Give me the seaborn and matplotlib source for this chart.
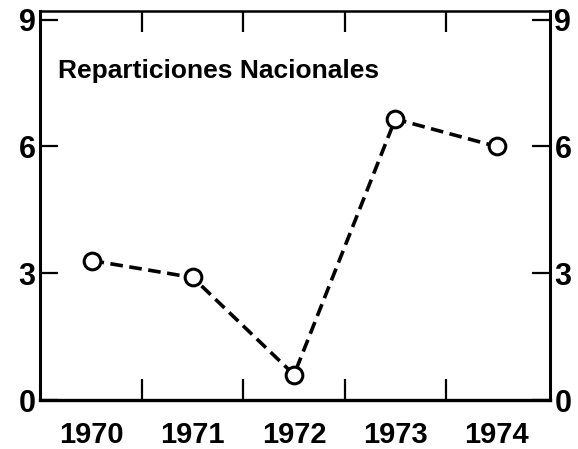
import matplotlib
matplotlib.use("Agg")
import matplotlib.pyplot as plt
import seaborn as sns
import pandas as pd
from matplotlib.ticker import FixedLocator, NullFormatter

# --- data ---
years = ["1970", "1971", "1972", "1973", "1974"]
values = [3.3, 2.9, 0.6, 6.65, 6.0]
y_ticks = [0, 3, 6, 9]
title = "Reparticiones Nacionales"

df = pd.DataFrame({"year": years, "value": values})

sns.set_style("white")
plt.rcParams["font.family"] = ["Liberation Sans", "DejaVu Sans"]
plt.rcParams["text.color"] = "black"
plt.rcParams["xtick.color"] = "black"
plt.rcParams["ytick.color"] = "black"
plt.rcParams["xtick.labelcolor"] = "black"
plt.rcParams["ytick.labelcolor"] = "black"

fig = plt.figure(figsize=(5.78, 4.49), dpi=100)
ax = fig.add_axes([0.069, 0.109, 0.883, 0.866])

sns.lineplot(data=df, x="year", y="value", ax=ax, color="black",
             linewidth=2.6, linestyle="--", dashes=False, marker="o",
             markersize=12, markerfacecolor="white", markeredgecolor="black",
             markeredgewidth=2.2, sort=False)
ax.lines[0].set_dashes((3.5, 1.8))

ax.set_xlim(-0.51, 4.53)
ax.set_ylim(0, 9.2)

# category labels at centres, tick marks at the boundaries
n = len(years)
ax.xaxis.set_major_locator(FixedLocator([i + 0.5 for i in range(n - 1)]))
ax.xaxis.set_major_formatter(NullFormatter())
ax.xaxis.set_minor_locator(FixedLocator(list(range(n))))
ax.set_xticklabels(years, minor=True)
ax.tick_params(axis="x", which="major", direction="in", length=15, width=1.6,
               top=True, bottom=True, color="black")
ax.tick_params(axis="x", which="minor", length=0, pad=15, labelsize=21,
               labelcolor="black")
for lbl in ax.get_xticklabels(minor=True):
    lbl.set_fontweight("bold")

ax.set_yticks(y_ticks)
ax.set_yticklabels([str(t) for t in y_ticks])
ax.tick_params(axis="y", direction="in", length=13, width=1.6, left=True,
               right=True, labelleft=True, labelright=True, labelsize=22,
               pad=3, color="black", labelcolor="black")
for lbl in ax.get_yticklabels():
    lbl.set_fontweight("bold")

for side in ["left", "right", "top", "bottom"]:
    ax.spines[side].set_visible(True)
    ax.spines[side].set_color("black")
ax.spines["left"].set_linewidth(2.2)
ax.spines["right"].set_linewidth(2.2)
ax.spines["bottom"].set_linewidth(2.4)
ax.spines["top"].set_linewidth(1.8)

ax.set_xlabel("")
ax.set_ylabel("")
ax.text(0.035, 0.845, title, transform=ax.transAxes, fontsize=19,
        fontweight="bold", ha="left", va="center", color="black")

fig.savefig("out.png", dpi=100)
